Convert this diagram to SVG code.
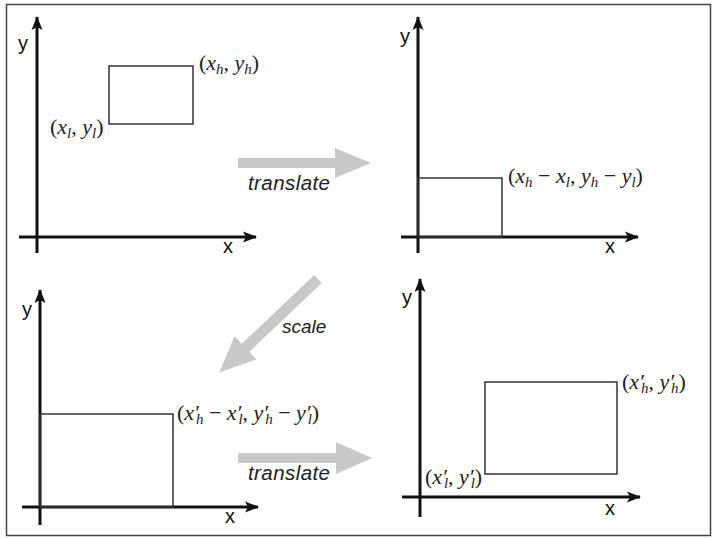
<svg xmlns="http://www.w3.org/2000/svg" width="712" height="538" viewBox="0 0 712 538">
<style>
.axis{stroke:#111;stroke-width:3;fill:none;marker-end:url(#ah)}
.box{fill:none;stroke:#333;stroke-width:1.5}
.lab{font-family:"Liberation Sans",Arial,sans-serif;font-size:20px;fill:#111}
.op{font-family:"Liberation Sans",Arial,sans-serif;font-size:19px;font-style:italic;fill:#222}
.tr{font-size:20.5px}
.m{font-family:"Liberation Serif","Times New Roman",serif;font-size:22px;fill:#222}
.i{font-style:italic}
.s{font-style:italic;font-size:15px}
.big{fill:#c8c8c8}
</style>
<defs>
<marker id="ah" markerUnits="userSpaceOnUse" markerWidth="16" markerHeight="12" viewBox="-14 -6 16 12" refX="0" refY="0" orient="auto" overflow="visible">
<path d="M1,0 L-13,-5.5 L-10,0 L-13,5.5 Z" fill="#111"/>
</marker>
</defs>
<rect x="6.5" y="4.5" width="704" height="531" fill="#fff" stroke="#444" stroke-width="1.5"/>

<g id="panel-original">
<line class="axis" x1="37" y1="253" x2="37" y2="17"/>
<line class="axis" x1="19" y1="237" x2="256" y2="237"/>
<text class="lab" x="18" y="50">y</text>
<text class="lab" x="223" y="253">x</text>
<rect class="box" x="109" y="66" width="84" height="58"/>
<text class="m" x="199" y="70">(<tspan class="i">x</tspan><tspan class="s" dy="4">h</tspan><tspan dy="-4">, </tspan><tspan class="i">y</tspan><tspan class="s" dy="4">h</tspan><tspan dy="-4">)</tspan></text>
<text class="m" x="50" y="134">(<tspan class="i">x</tspan><tspan class="s" dy="4">l</tspan><tspan dy="-4">, </tspan><tspan class="i">y</tspan><tspan class="s" dy="4">l</tspan><tspan dy="-4">)</tspan></text>
</g>

<g id="panel-translated">
<line class="axis" x1="418" y1="253" x2="418" y2="17"/>
<line class="axis" x1="401" y1="237" x2="638" y2="237"/>
<text class="lab" x="400" y="43">y</text>
<text class="lab" x="605" y="253">x</text>
<rect class="box" x="418" y="178" width="84" height="59"/>
<text class="m" x="508" y="183">(<tspan class="i">x</tspan><tspan class="s" dy="4">h</tspan><tspan dy="-4"> − </tspan><tspan class="i">x</tspan><tspan class="s" dy="4">l</tspan><tspan dy="-4">, </tspan><tspan class="i">y</tspan><tspan class="s" dy="4">h</tspan><tspan dy="-4"> − </tspan><tspan class="i">y</tspan><tspan class="s" dy="4">l</tspan><tspan dy="-4">)</tspan></text>
</g>

<g id="panel-scaled">
<line class="axis" x1="40" y1="525" x2="40" y2="290"/>
<line class="axis" x1="22" y1="507" x2="258" y2="507"/>
<text class="lab" x="22" y="316">y</text>
<text class="lab" x="225" y="523">x</text>
<rect class="box" x="40" y="414" width="133" height="93"/>
<text class="m" x="177" y="420">(<tspan class="i">x′</tspan><tspan class="s" dx="-3" dy="4">h</tspan><tspan dy="-4"> − </tspan><tspan class="i">x′</tspan><tspan class="s" dx="-3" dy="4">l</tspan><tspan dy="-4">, </tspan><tspan class="i">y′</tspan><tspan class="s" dx="-3" dy="4">h</tspan><tspan dy="-4"> − </tspan><tspan class="i">y′</tspan><tspan class="s" dx="-3" dy="4">l</tspan><tspan dy="-4">)</tspan></text>
</g>

<g id="panel-final">
<line class="axis" x1="420" y1="517" x2="420" y2="279"/>
<line class="axis" x1="402" y1="497" x2="640" y2="497"/>
<text class="lab" x="402" y="304">y</text>
<text class="lab" x="605" y="515">x</text>
<rect class="box" x="485" y="382" width="132" height="92"/>
<text class="m" x="622" y="389">(<tspan class="i">x′</tspan><tspan class="s" dx="-3" dy="4">h</tspan><tspan dy="-4">, </tspan><tspan class="i">y′</tspan><tspan class="s" dx="-3" dy="4">h</tspan><tspan dy="-4">)</tspan></text>
<text class="m" x="425" y="484">(<tspan class="i">x′</tspan><tspan class="s" dx="-3" dy="4">l</tspan><tspan dy="-4">, </tspan><tspan class="i">y′</tspan><tspan class="s" dx="-3" dy="4">l</tspan><tspan dy="-4">)</tspan></text>
</g>

<g id="connectors">
<polygon class="big" points="238,158 335,158 335,148 371,163 335,178 335,168 238,168"/>
<text class="op tr" x="248" y="190" textLength="82" lengthAdjust="spacing">translate</text>
<polygon class="big" transform="translate(318,279) rotate(136.5)" points="0,-5.5 100,-5.5 100,-16 136,0 100,16 100,5.5 0,5.5"/>
<text class="op" x="282" y="333">scale</text>
<polygon class="big" points="238,453 336,453 336,442 372,458 336,474 336,463 238,463"/>
<text class="op tr" x="248" y="480" textLength="82" lengthAdjust="spacing">translate</text>
</g>
</svg>
